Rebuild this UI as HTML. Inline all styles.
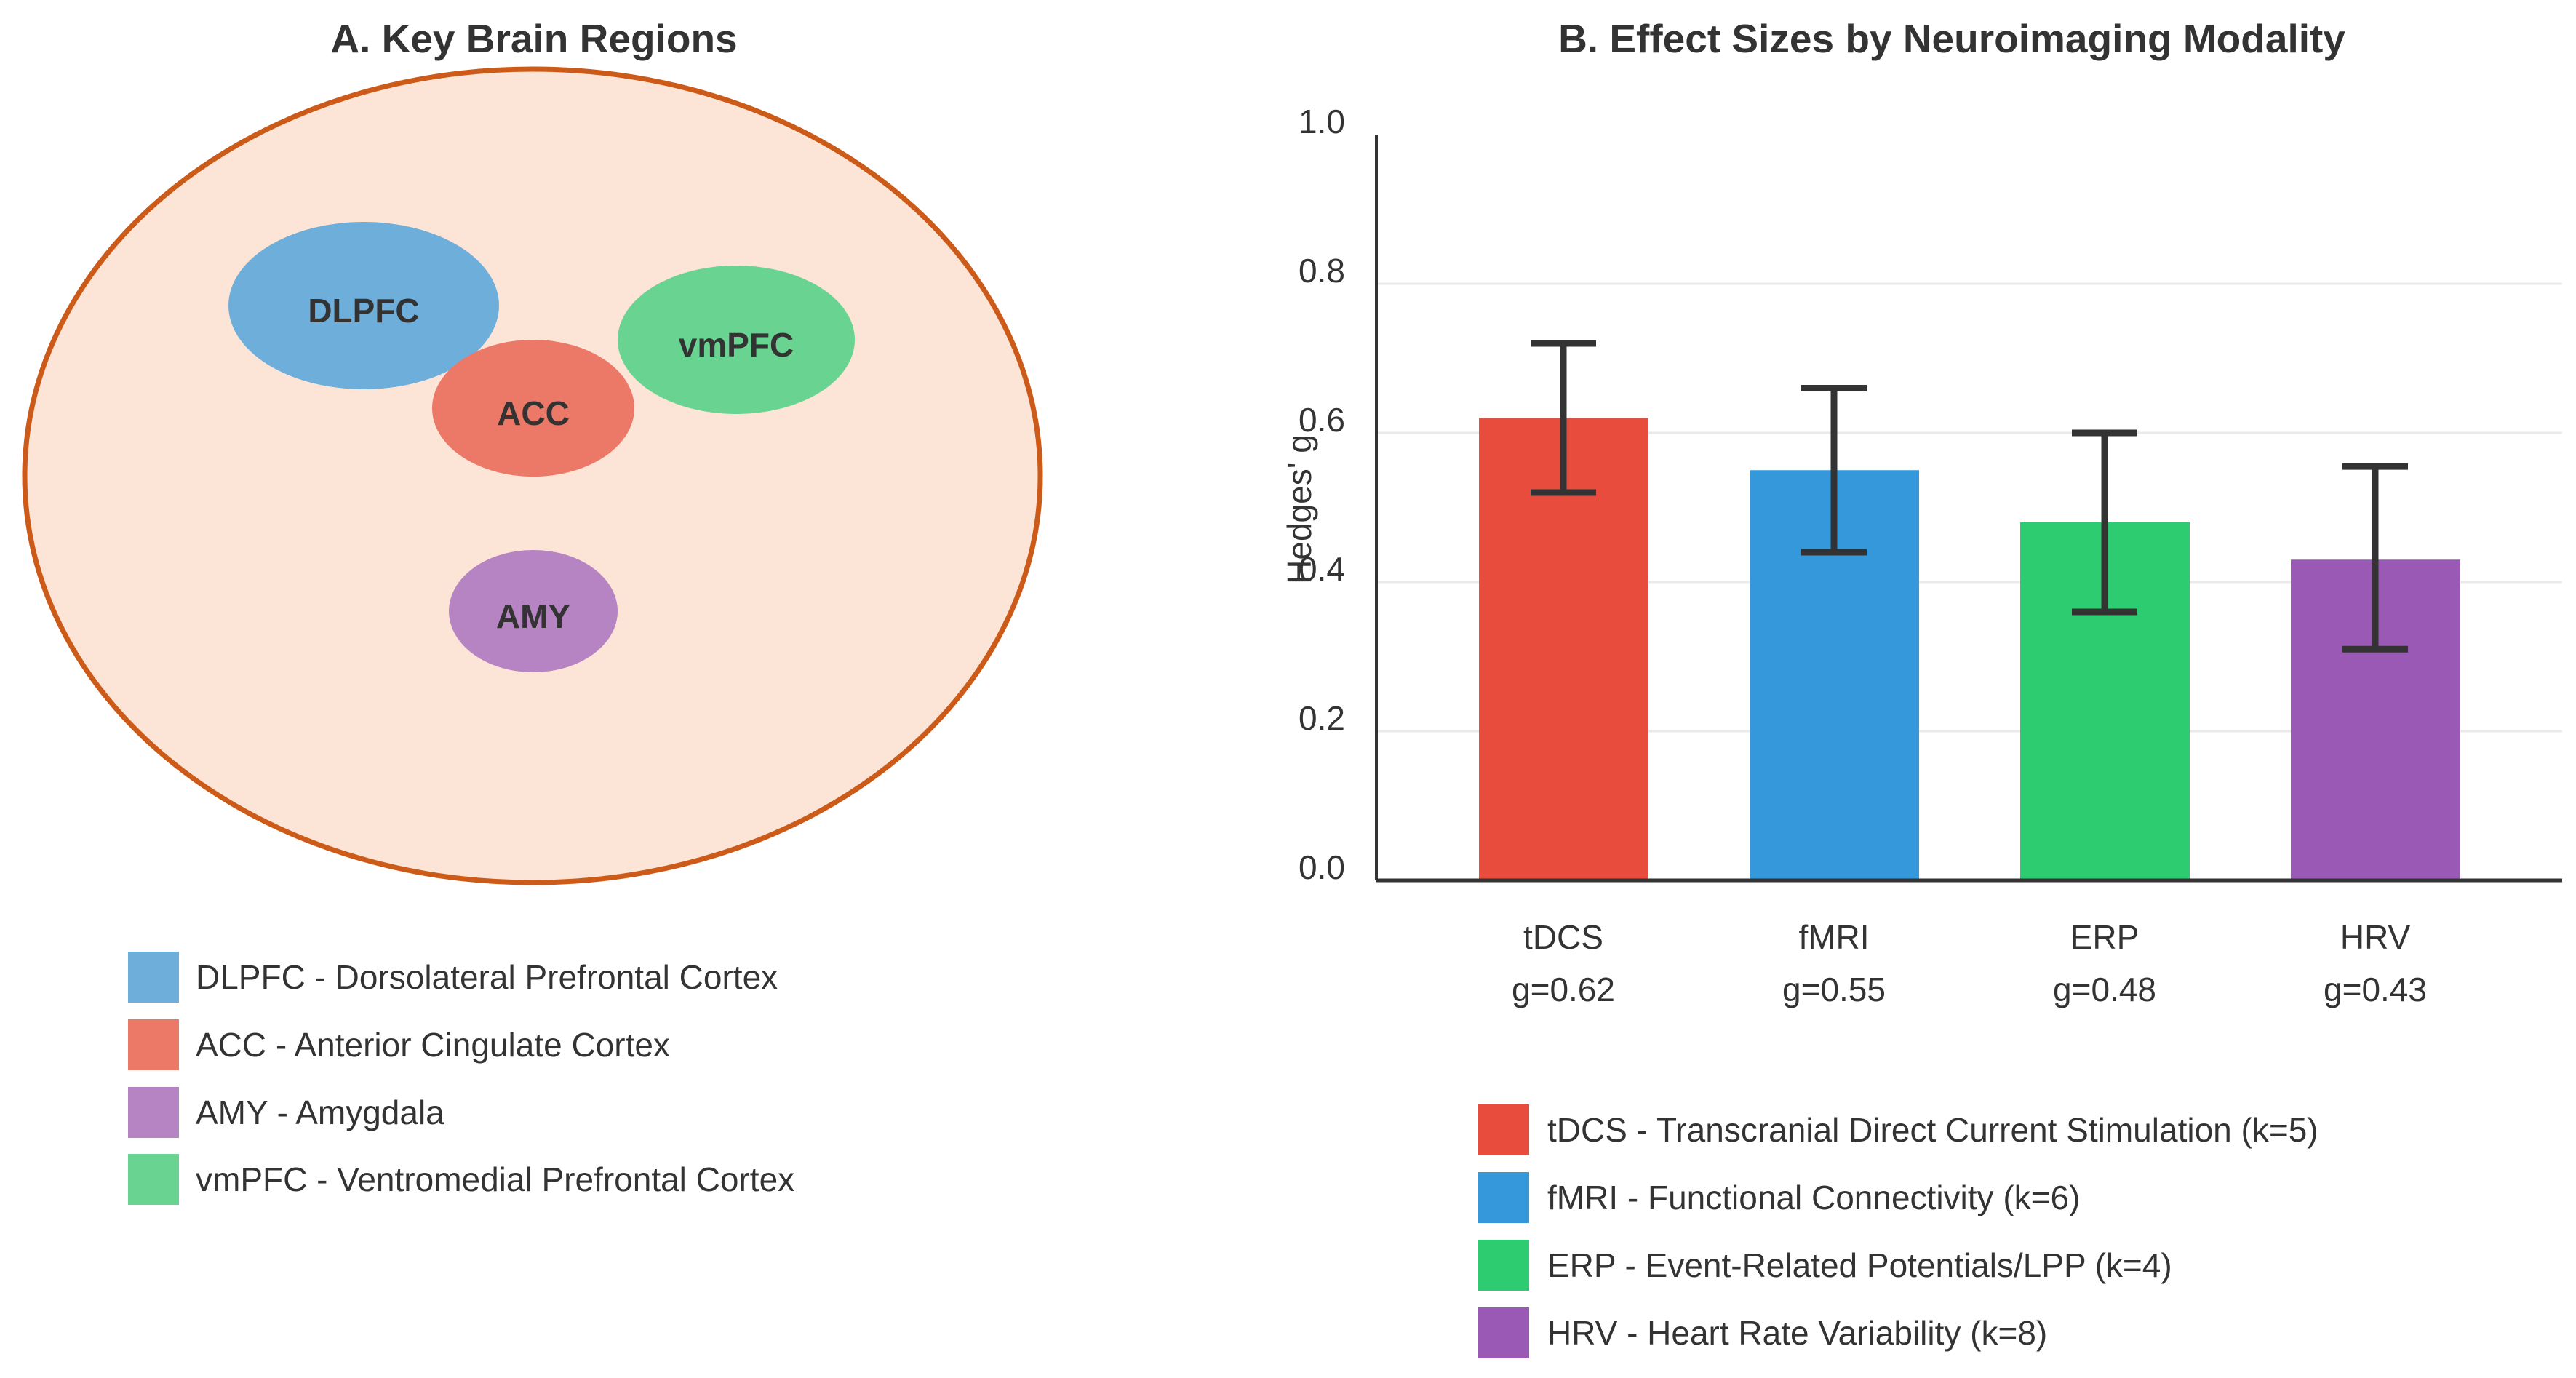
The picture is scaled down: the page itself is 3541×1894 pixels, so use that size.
<!DOCTYPE html>
<html><head><meta charset="utf-8"><style>
body{margin:0;background:#fff;}
svg{display:block;font-family:"Liberation Sans",Arial,sans-serif;}
</style></head><body>
<svg id="fig" width="3541" height="1894" viewBox="0 0 3541 1894">
<rect width="3541" height="1894" fill="#fff"/>
<text x="734" y="72" text-anchor="middle" font-size="55" font-weight="bold" fill="#333">A. Key Brain Regions</text>
<ellipse cx="732" cy="654" rx="698" ry="559" fill="#fce4d6" stroke="#cc5a18" stroke-width="7"/>
<g><ellipse cx="500" cy="420" rx="186" ry="115" fill="#6eaedb"/><text x="500" y="443" text-anchor="middle" font-size="46" font-weight="bold" fill="#333">DLPFC</text></g>
<g><ellipse cx="733" cy="561" rx="139" ry="94" fill="#ec7868"/><text x="733" y="584" text-anchor="middle" font-size="46" font-weight="bold" fill="#333">ACC</text></g>
<g><ellipse cx="1012" cy="467" rx="163" ry="102" fill="#69d391"/><text x="1012" y="490" text-anchor="middle" font-size="46" font-weight="bold" fill="#333">vmPFC</text></g>
<g><ellipse cx="733" cy="840" rx="116" ry="84" fill="#b683c3"/><text x="733" y="863" text-anchor="middle" font-size="46" font-weight="bold" fill="#333">AMY</text></g>
<g font-size="46" fill="#333">
<g><rect x="176" y="1308" width="70" height="70" fill="#6eaedb"/><text x="269" y="1359">DLPFC - Dorsolateral Prefrontal Cortex</text></g>
<g><rect x="176" y="1401" width="70" height="70" fill="#ec7868"/><text x="269" y="1452">ACC - Anterior Cingulate Cortex</text></g>
<g><rect x="176" y="1494" width="70" height="70" fill="#b683c3"/><text x="269" y="1545">AMY - Amygdala</text></g>
<g><rect x="176" y="1586" width="70" height="70" fill="#69d391"/><text x="269" y="1637">vmPFC - Ventromedial Prefrontal Cortex</text></g>
</g>
<text x="2683" y="72" text-anchor="middle" font-size="55" font-weight="bold" fill="#333">B. Effect Sizes by Neuroimaging Modality</text>
<g id="chart"></g>
</svg>
<script>
const categories=["tDCS","fMRI","ERP","HRV"];
const values=[0.62,0.55,0.48,0.43];
const ciLow=[0.52,0.44,0.36,0.31];
const ciHigh=[0.72,0.66,0.60,0.555];
const colors=["#e74c3c","#3498db","#2ecc71","#9b59b6"];
const legendLabels=["tDCS - Transcranial Direct Current Stimulation (k=5)","fMRI - Functional Connectivity (k=6)","ERP - Event-Related Potentials/LPP (k=4)","HRV - Heart Rate Variability (k=8)"];
const yTicks=[0,0.2,0.4,0.6,0.8,1.0];
const NS="http://www.w3.org/2000/svg";
const g=document.getElementById('chart');
const X0=1892,X1=3522,Y0=1210,Y1=185;
const y=v=>Y0-(v)*(Y0-Y1);
const x=i=>2149+i*372;
function mk(t,a,p){const e=document.createElementNS(NS,t);for(const k in a)e.setAttribute(k,a[k]);(p||g).appendChild(e);return e;}
yTicks.forEach(t=>{
  if(t>0&&t<1){const l=mk('line',{x1:X0,x2:X1,y1:y(t),y2:y(t),stroke:'#eaeaea','stroke-width':3});
  
  }
  const tx=mk('text',{x:1849,y:y(t)-2,'text-anchor':'end','font-size':46,fill:'#333'});tx.textContent=t.toFixed(1);
  
  
});
categories.forEach((c,i)=>{
  const r=mk('rect',{x:x(i)-116,y:y(values[i]),width:233,height:Y0-y(values[i]),fill:colors[i]});
  
  
  const eb=mk('g',{stroke:'#333','stroke-width':9});
  
  
  mk('line',{x1:x(i),x2:x(i),y1:y(ciLow[i]),y2:y(ciHigh[i])},eb);
  mk('line',{x1:x(i)-45,x2:x(i)+45,y1:y(ciLow[i]),y2:y(ciLow[i])},eb);
  mk('line',{x1:x(i)-45,x2:x(i)+45,y1:y(ciHigh[i]),y2:y(ciHigh[i])},eb);
  const t1=mk('text',{x:x(i),y:1304,'text-anchor':'middle','font-size':46,fill:'#333'});t1.textContent=c;
  
  
  const t2=mk('text',{x:x(i),y:1376,'text-anchor':'middle','font-size':46,fill:'#333'});t2.textContent='g='+values[i].toFixed(2);
  
  
  const lg=mk('g',{});
  
  
  const ly=1553+i*93;
  mk('rect',{x:2032,y:ly-35,width:70,height:70,fill:colors[i]},lg);
  const lt=mk('text',{x:2127,y:ly+16,'font-size':46,fill:'#333'},lg);lt.textContent=legendLabels[i];
});
const ax=mk('line',{x1:X0,x2:X0,y1:Y1,y2:Y0,stroke:'#333','stroke-width':4});


const axx=mk('line',{x1:X0,x2:X1,y1:Y0,y2:Y0,stroke:'#333','stroke-width':5});


const yt=mk('text',{x:0,y:0,'text-anchor':'middle','font-size':46,fill:'#333',transform:'translate(1802,700) rotate(-90)'});
yt.textContent="Hedges' g";


</script>
</body></html>
